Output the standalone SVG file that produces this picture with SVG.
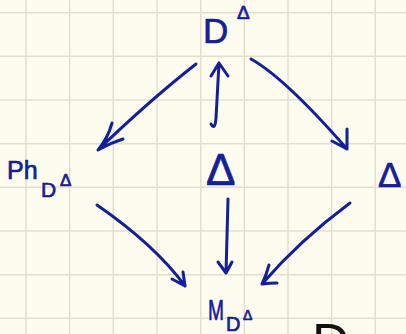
<svg xmlns="http://www.w3.org/2000/svg" width="406" height="334" viewBox="0 0 406 334">
<defs>
<style>
.ink{fill:#14209a;stroke:#14209a;stroke-width:0.7;stroke-linejoin:round;font-family:"Liberation Sans",Arial,sans-serif}
.arr{fill:none;stroke:#14209a;stroke-width:3;stroke-linecap:round;stroke-linejoin:round}
.grid{stroke:#e2dfd0;stroke-width:1.5;fill:none}
</style>
</defs>
<rect width="406" height="334" fill="#fefcee"/>
<path class="grid" d="M26,0V334M69.7,0V334M113.3,0V334M157,0V334M200.7,0V334M244.3,0V334M288,0V334M331.7,0V334M375.3,0V334M0,12.7H406M0,56.3H406M0,100H406M0,143.7H406M0,187.3H406M0,231H406M0,274.7H406M0,318.3H406"/>
<g id="connectors">
<path class="arr" d="M196,64 Q150,100 98,150 M112,123 Q108,138 98,150 Q110,143 123,139"/>
<path class="arr" d="M251,59 Q285,78 347,149 M347,129 L347,149 L332,141"/>
<path class="arr" d="M211,124 Q215,131 216,118 L219,63 M211,76 L219,63 L228,76"/>
<path class="arr" d="M97,205 Q155,245 185,286 M183,272 L185,286 L172,279"/>
<path class="arr" d="M228,199 L226,273 M218,262 L226,273 L232,262"/>
<path class="arr" d="M350,203 Q300,240 262,284 M269,265 Q266,276 262,284 Q270,283 277,283"/>
</g>
<g id="node-DDelta">
<text class="ink" x="203" y="43" font-size="35">D</text>
<text class="ink" x="237" y="19" font-size="19">Δ</text>
</g>
<g id="node-Ph">
<text class="ink" x="7" y="179" font-size="25">Ph</text>
<text class="ink" x="41" y="197" font-size="21">D</text>
<text class="ink" x="60" y="186" font-size="17">Δ</text>
</g>
<g id="node-Delta-mid">
<text class="ink" x="206" y="185" font-size="44">Δ</text>
</g>
<g id="node-Delta-right">
<text class="ink" x="378" y="187" font-size="35">Δ</text>
</g>
<g id="node-M">
<text class="ink" x="208" y="320" font-size="30" textLength="16" lengthAdjust="spacingAndGlyphs">M</text>
<text class="ink" x="226" y="331" font-size="20">D</text>
<text class="ink" x="243" y="320" font-size="14">Δ</text>
</g>
<g id="node-partial">
<text x="312" y="360" font-size="52" fill="#111" font-family="Liberation Sans,Arial,sans-serif">D</text>
</g>
</svg>
